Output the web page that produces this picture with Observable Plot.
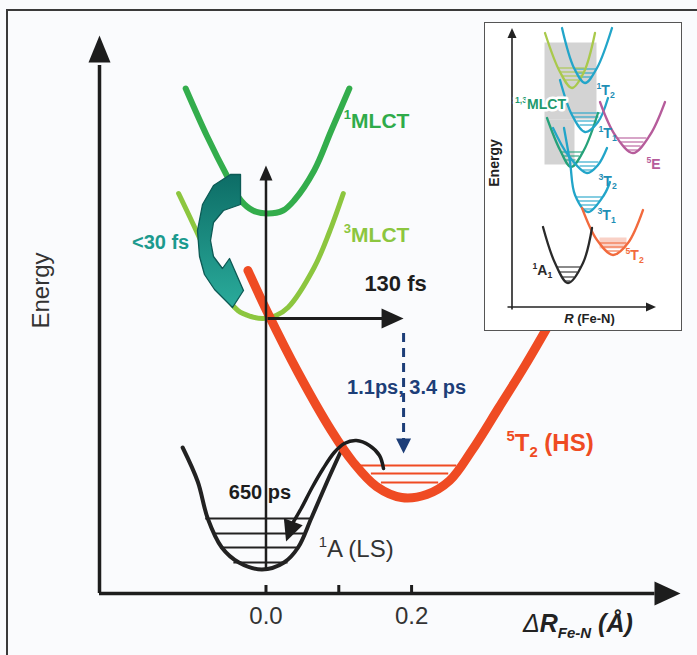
<!DOCTYPE html>
<html>
<head>
<meta charset="utf-8">
<script src="https://cdn.jsdelivr.net/npm/d3@7"></script>
<script src="https://cdn.jsdelivr.net/npm/@observablehq/plot@0.6"></script>
<style>
  html, body { margin: 0; padding: 0; background: #fafbfd; }
  #wrap { position: relative; width: 697px; height: 655px; overflow: hidden; background: #fafbfd; }
  #frame { position: absolute; left: 6px; top: 9px; width: 760px; height: 760px; border-left: 2px solid #3a3a3a; border-top: 2px solid #3a3a3a; }
  #main { position: absolute; left: 0; top: 0; }
  #inset { position: absolute; left: 484px; top: 22px; width: 198px; height: 309px; box-sizing: border-box; border: 1.5px solid #555; background: #fff; }
  #inset svg, #main svg { display: block; }
</style>
</head>
<body>
<div id="wrap"><div id="frame"></div><div id="main"></div><div id="inset"></div></div>
<script>
const FONT = '"Liberation Sans", Arial, Helvetica, sans-serif';

// ===== MAIN DIAGRAM DATA (x = ΔR Fe–N in Å, y = energy, arbitrary units) =====
const xTicks = [0, 0.1, 0.2];
const xTickLabels = [0, 0.2];
const xRange = [-0.2287, 0.5694];
const yRange = [0, 5.58];

// potential energy curves, [ΔR, E] points
const groundLS = [[-0.1145,1.46],[-0.0938,1.12],[-0.0800,0.75],[-0.0607,0.46],[-0.0372,0.31],[-0.0055,0.24],[0.0248,0.31],[0.0441,0.46],[0.0621,0.75],[0.0841,1.12],[0.1034,1.43]];
const mlct1 = [[-0.1103,5.05],[-0.0814,4.58],[-0.0524,4.16],[-0.0345,3.93],[-0.0179,3.83],[0.0028,3.80],[0.0234,3.83],[0.0386,3.93],[0.0662,4.23],[0.0897,4.63],[0.1145,5.05]];
const mlct3 = [[-0.12,4.00],[-0.0897,3.53],[-0.0621,3.06],[-0.0386,2.83],[-0.0207,2.77],[-0.0041,2.75],[0.0138,2.78],[0.0303,2.86],[0.0662,3.26],[0.0869,3.61],[0.1062,4.00]];
const quintetHS = [[-0.0248,3.23],[0.0028,2.80],[0.0441,2.21],[0.0897,1.63],[0.12,1.31],[0.1517,1.07],[0.1862,0.96],[0.2207,0.99],[0.2524,1.13],[0.2828,1.43],[0.32,1.86],[0.3559,2.28],[0.3903,2.71]];

// vibrational levels
const groundLevels = [{y:0.75,x1:-0.0828,x2:0.0621},{y:0.60,x1:-0.0717,x2:0.0524},{y:0.46,x1:-0.0621,x2:0.0441},{y:0.31,x1:-0.0441,x2:0.0303}];
const hsLevels = [{y:1.28,x1:0.1283,x2:0.2621},{y:1.20,x1:0.1448,x2:0.251},{y:1.11,x1:0.1586,x2:0.2372}];

// transitions
const excitation = {x:0, y1:0.24, y2:4.16, tip:4.28};
const mlctToHS = {y:2.75, x1:0.0028, x2:0.17, tip:0.189};
const hsCooling = {x:0.189, y1:2.60, y2:1.52, tip:1.40};
const backRelax = [[0.1614,1.25],[0.1559,1.38],[0.1421,1.48],[0.1241,1.53],[0.1076,1.50],[0.0938,1.41],[0.0786,1.25],[0.0634,1.06],[0.0483,0.85],[0.0372,0.71]];
const backRelaxTip = {x:0.0276, y:0.52};
const iscArrow = [[-0.0488,4.19],[-0.0721,4.08],[-0.0872,3.89],[-0.0941,3.63],[-0.0913,3.37],[-0.0845,3.19],[-0.0707,3.04],[-0.0460,2.86],[-0.0309,3.03],[-0.0501,3.35],[-0.0598,3.25],[-0.0721,3.37],[-0.0762,3.53],[-0.0721,3.71],[-0.0584,3.83],[-0.0350,3.89],[-0.0350,4.19],[-0.0488,4.19]];

// labels
const timeLabels = [
  {id:"isc", text:"<30 fs", x:-0.1448, y:3.51},
  {id:"ict", text:"130 fs", x:0.178, y:3.10},
  {id:"cool", text:"1.1ps, 3.4 ps", x:0.1931, y:2.06},
  {id:"back", text:"650 ps", x:-0.0083, y:1.01}
];
const stateLabels = [
  {id:"mlct1", x:0.1076, y:4.73, parts:[["1","sup"],["MLCT",""]]},
  {id:"mlct3", x:0.1076, y:3.59, parts:[["3","sup"],["MLCT",""]]},
  {id:"hs", x:0.331, y:1.51, parts:[["5","sup"],["T",""],["2","sub"],[" (HS)",""]]},
  {id:"ls", x:0.0731, y:0.45, parts:[["1","sup"],["A (LS)",""]]}
];
const yTitle = {text:"Energy", x:-0.3084, y:3.03};
const xTitle = {x:0.3537, y:-0.30, parts:["Δ","R","Fe-N"," (Å)"]};

// ===== INSET DATA (R in arbitrary units, energy in arbitrary units) =====
const insetX = [-2.65, 16.85];
const insetY = [-2.25, 28.35];
const inA1 = [[3.1,8.0],[4.3,4.4],[5.6,2.4],[7.1,4.4],[8.0,7.9]];
const inT2q = [[7.0,9.9],[8.5,6.7],[10.1,5.2],[11.6,6.4],[13.1,9.7]];
const inT1t = [[5.2,17.9],[5.8,14.5],[6.3,11.2],[7.6,9.5],[9.2,11.2],[9.8,12.5]];
const inT2t = [[4.1,17.9],[5.6,15.2],[7.5,13.4],[8.6,14.2],[9.5,15.9]];
const inT1s = [[4.8,22.7],[6.0,19.2],[7.3,17.5],[8.6,18.5],[9.6,20.9]];
const inT2s = [[5.0,27.9],[6.2,23.9],[7.3,22.4],[8.5,23.9],[10.0,27.9]];
const inMLCT1 = [[3.3,27.4],[4.8,23.5],[6.0,21.9],[7.2,23.5],[8.3,27.4]];
const inMLCT3 = [[3.5,18.9],[4.8,15.7],[5.9,14.0],[7.2,15.7],[8.6,19.4]];
const inE5 = [[8.8,20.5],[10.3,17.2],[12.1,15.4],[13.8,17.2],[15.3,20.5]];
const insetShading = [{x1:3.3,x2:8.5,y1:18.7,y2:26.4},{x1:3.3,x2:6.3,y1:14.2,y2:18.7}];
const insetHSShading = [{x1:8.8,x2:11.5,y1:5.8,y2:6.9}];
const insetLevels = [
  {s:"A1",y:4.0,x1:4.45,x2:6.85},{s:"A1",y:3.5,x1:4.7,x2:6.55},{s:"A1",y:3.0,x1:5.0,x2:6.25},{s:"A1",y:2.6,x1:5.3,x2:5.9},
  {s:"T2q",y:6.4,x1:8.85,x2:11.5},{s:"T2q",y:6.0,x1:9.2,x2:11.2},{s:"T2q",y:5.6,x1:9.5,x2:10.8},
  {s:"T",y:11.0,x1:6.4,x2:9.1},{s:"T",y:10.6,x1:6.6,x2:8.8},{s:"T",y:10.2,x1:6.8,x2:8.6},{s:"T",y:9.8,x1:7.1,x2:8.2},
  {s:"T",y:14.5,x1:6.4,x2:8.7},{s:"T",y:14.1,x1:6.8,x2:8.4},{s:"T",y:13.7,x1:7.1,x2:8.1},
  {s:"T",y:19.4,x1:6.0,x2:8.9},{s:"T",y:19.0,x1:6.2,x2:8.7},{s:"T",y:18.6,x1:6.5,x2:8.5},{s:"T",y:18.2,x1:6.8,x2:8.2},
  {s:"T",y:23.8,x1:6.25,x2:8.45},{s:"T",y:23.4,x1:6.5,x2:8.2},{s:"T",y:23.0,x1:6.75,x2:7.95},
  {s:"M1",y:23.9,x1:4.7,x2:7.3},{s:"M1",y:23.5,x1:4.8,x2:7.2},{s:"M1",y:23.1,x1:5.05,x2:6.95},{s:"M1",y:22.7,x1:5.3,x2:6.7},
  {s:"M3",y:15.5,x1:4.9,x2:7.05},{s:"M3",y:15.1,x1:5.15,x2:6.75},{s:"M3",y:14.7,x1:5.4,x2:6.4},
  {s:"E",y:16.9,x1:10.6,x2:13.5},{s:"E",y:16.5,x1:10.9,x2:13.2},{s:"E",y:16.1,x1:11.2,x2:12.9},{s:"E",y:15.7,x1:11.6,x2:12.6}
];
const insetLabels = [
  {s:"M", x:2.9, y:20.3, parts:[["1,3","sup"],["MLCT",""]]},
  {s:"T", x:8.5, y:21.7, parts:[["1","sup"],["T",""],["2","sub"]]},
  {s:"T", x:8.7, y:17.4, parts:[["1","sup"],["T",""],["1","sub"]]},
  {s:"T", x:8.7, y:12.6, parts:[["3","sup"],["T",""],["2","sub"]]},
  {s:"T", x:8.6, y:9.2, parts:[["3","sup"],["T",""],["1","sub"]]},
  {s:"T2q", x:11.4, y:5.2, parts:[["5","sup"],["T",""],["2","sub"]]},
  {s:"E", x:13.5, y:14.3, parts:[["5","sup"],["E",""]]},
  {s:"A1", x:2.1, y:3.7, parts:[["1","sup"],["A",""],["1","sub"]]}
];
const insetYTitle = {text:"Energy", x:-1.7, y:14.4};
const insetXTitle = {x:7.8, y:-1.1, parts:["R"," (Fe-N)"]};

// ===== helpers =====
const P = d => d[0], Q = d => d[1];
function head(x, y, rotate, length, r, fill) {
  return Plot.vector([{x, y}], {x:"x", y:"y", rotate, length, r, shape:"spike", anchor:"end", fill, stroke:"none"});
}
function richText(svg, X, Y, label, st) {
  const t = d3.select(svg).append("text")
    .attr("x", X(label.x)).attr("y", Y(label.y) + 0.36 * st.size)
    .attr("font-family", FONT).attr("font-size", st.size)
    .attr("font-weight", st.weight || "bold").attr("fill", st.color)
    .attr("text-anchor", st.anchor || "start");
  if (st.halo) t.attr("stroke", "#fff").attr("stroke-width", st.halo).attr("paint-order", "stroke").attr("stroke-linejoin", "round");
  let shift = 0;
  for (const [s, kind] of label.parts) {
    const target = kind === "sup" ? -0.4 * st.size : kind === "sub" ? 0.25 * st.size : 0;
    const ts = t.append("tspan").text(s);
    if (target - shift !== 0) ts.attr("dy", target - shift);
    shift = target;
    if (kind) ts.attr("font-size", st.size * 0.62);
  }
  return t;
}

// ===== MAIN PLOT =====
const timeStyle = {isc:{c:"#1b9a8e",s:20}, ict:{c:"#1d1d1d",s:22}, cool:{c:"#1d3e78",s:20}, back:{c:"#1d1d1d",s:20}};
const main = Plot.plot({
  width: 697, height: 655,
  marginLeft: 99, marginRight: 17, marginTop: 35, marginBottom: 62,
  x: {domain: xRange, axis: null},
  y: {domain: yRange, axis: null},
  style: {background: "transparent", fontFamily: FONT, overflow: "visible", color: "#1d1d1d"},
  marks: [
    Plot.ruleY(groundLevels, {y:"y", x1:"x1", x2:"x2", stroke:"#222", strokeWidth:1.8}),
    Plot.ruleY(hsLevels, {y:"y", x1:"x1", x2:"x2", stroke:"#ef4b23", strokeWidth:2}),
    Plot.line(groundLS, {x:P, y:Q, curve:"catmull-rom", stroke:"#222", strokeWidth:4}),
    Plot.line(mlct3, {x:P, y:Q, curve:"catmull-rom", stroke:"#8cc63f", strokeWidth:5}),
    Plot.line(mlct1, {x:P, y:Q, curve:"catmull-rom", stroke:"#33ad4c", strokeWidth:6}),
    Plot.line(quintetHS, {x:P, y:Q, curve:"catmull-rom", stroke:"#ef4b23", strokeWidth:9}),
    // axes
    Plot.ruleX([xRange[0]], {y1:0, y2:yRange[1] - 0.3, stroke:"#1d1d1d", strokeWidth:3.5}),
    head(xRange[0], yRange[1], 0, 27, 11, "#1d1d1d"),
    Plot.ruleY([0], {x1:xRange[0], x2:xRange[1] - 0.035, stroke:"#1d1d1d", strokeWidth:3.5}),
    head(xRange[1], 0, 90, 26, 12, "#1d1d1d"),
    Plot.ruleX(xTicks, {x:d => d, y1:0, y2:0.08, stroke:"#1d1d1d", strokeWidth:3}),
    Plot.text(xTickLabels, {x:d => d, y:-0.23, text:d => d3.format(".1f")(d), fontSize:24, fill:"#333"}),
    Plot.text([yTitle], {x:"x", y:"y", text:"text", rotate:-90, fontSize:24, fill:"#333"}),
    // intersystem crossing arrow
    Plot.line(iscArrow, {x:P, y:Q, curve:"linear", fill:"url(#tealGrad)", stroke:"#0c5a55", strokeWidth:1.3, strokeLinejoin:"round"}),
    // excitation
    Plot.ruleX([excitation.x], {y1:excitation.y1, y2:excitation.y2, stroke:"#1d1d1d", strokeWidth:2.5}),
    head(excitation.x, excitation.tip, 0, 15, 6.5, "#1d1d1d"),
    // MLCT -> HS
    Plot.ruleY([mlctToHS.y], {x1:mlctToHS.x1, x2:mlctToHS.x2, stroke:"#1d1d1d", strokeWidth:3}),
    head(mlctToHS.tip, mlctToHS.y, 90, 22, 10, "#1d1d1d"),
    // HS vibrational cooling
    Plot.ruleX([hsCooling.x], {y1:hsCooling.y1, y2:hsCooling.y2, stroke:"#1d3e78", strokeWidth:3, strokeDasharray:"9,6"}),
    head(hsCooling.x, hsCooling.tip, 180, 15, 7.5, "#1d3e78"),
    // HS -> LS relaxation
    Plot.line(backRelax, {x:P, y:Q, curve:"catmull-rom", stroke:"#1d1d1d", strokeWidth:3.5}),
    head(backRelaxTip.x, backRelaxTip.y, 200, 21, 10, "#1d1d1d"),
    ...timeLabels.map(d => Plot.text([d], {x:"x", y:"y", text:"text", fontSize:timeStyle[d.id].s, fontWeight:"bold", fill:timeStyle[d.id].c}))
  ]
});
document.getElementById("main").append(main);

// gradient for the teal arrow
const defs = d3.select(main).insert("defs", ":first-child");
const grad = defs.append("linearGradient").attr("id", "tealGrad").attr("x1", 0).attr("y1", 0).attr("x2", 0).attr("y2", 1);
grad.append("stop").attr("offset", "0%").attr("stop-color", "#0d6d66");
grad.append("stop").attr("offset", "100%").attr("stop-color", "#2aab9b");

const MX = v => main.scale("x").apply(v), MY = v => main.scale("y").apply(v);
const stateStyle = {
  mlct1: {size:21, color:"#2fab4a"},
  mlct3: {size:21, color:"#8cc63f"},
  hs: {size:24, color:"#ef4b23"},
  ls: {size:24, color:"#333", weight:"normal"}
};
for (const l of stateLabels) richText(main, MX, MY, l, stateStyle[l.id]);

// x-axis title ΔR_Fe-N (Å)
{
  const t = d3.select(main).append("text")
    .attr("x", MX(xTitle.x)).attr("y", MY(xTitle.y) + 9)
    .attr("text-anchor", "start")
    .attr("font-family", FONT).attr("font-size", 25).attr("font-style", "italic").attr("fill", "#222");
  t.append("tspan").text(xTitle.parts[0]);
  t.append("tspan").text(xTitle.parts[1]).attr("font-weight", "bold");
  t.append("tspan").text(xTitle.parts[2]).attr("font-weight", "bold").attr("font-size", 15).attr("dy", 6);
  t.append("tspan").text(xTitle.parts[3]).attr("font-weight", "bold").attr("dy", -6);
}

// ===== INSET PLOT =====
const C = {A1:"#2a2a2a", T2q:"#f26a3d", T:"#22a5c9", M1:"#a9c94b", M3:"#26a27a", E:"#b65c9b", M:"#1f9a6e"};
const curveMark = (data, color) => Plot.line(data, {x:P, y:Q, curve:"catmull-rom", stroke:color, strokeWidth:2.3});
const inset = Plot.plot({
  width: 195, height: 306, margin: 0,
  x: {domain: insetX, axis: null},
  y: {domain: insetY, axis: null},
  style: {background: "transparent", fontFamily: FONT, overflow: "visible"},
  marks: [
    Plot.rect(insetShading, {x1:"x1", x2:"x2", y1:"y1", y2:"y2", fill:"#c4c4c4", fillOpacity:0.75}),
    Plot.rect(insetHSShading, {x1:"x1", x2:"x2", y1:"y1", y2:"y2", fill:"#f5b3a0", fillOpacity:0.6}),
    ...Object.keys(C).map(s => Plot.ruleY(insetLevels.filter(d => d.s === s), {y:"y", x1:"x1", x2:"x2", stroke:C[s], strokeWidth:1.1})),
    curveMark(inMLCT1, C.M1),
    curveMark(inMLCT3, C.M3),
    curveMark(inT2s, C.T),
    curveMark(inT1s, C.T),
    curveMark(inT2t, C.T),
    curveMark(inT1t, C.T),
    curveMark(inE5, C.E),
    curveMark(inT2q, C.T2q),
    curveMark(inA1, C.A1),
    Plot.ruleX([0], {y1:-0.3, y2:27.0, stroke:"#222", strokeWidth:1.6}),
    head(0, 27.9, 0, 10, 4.5, "#222"),
    Plot.ruleY([0], {x1:-0.4, x2:13.6, stroke:"#222", strokeWidth:1.6}),
    head(14.4, 0, 90, 10, 4.5, "#222"),
    Plot.text([insetYTitle], {x:"x", y:"y", text:"text", rotate:-90, fontSize:14, fontWeight:"bold", fill:"#222"})
  ]
});
document.getElementById("inset").append(inset);
const IX = v => inset.scale("x").apply(v), IY = v => inset.scale("y").apply(v);
for (const l of insetLabels) {
  const st = l.s === "M" ? {size:14, color:C.M, anchor:"middle", halo:5}
           : {size:14, color: l.s === "T" ? "#1f8fb5" : C[l.s]};
  richText(inset, IX, IY, l, st);
}
{
  const t = d3.select(inset).append("text")
    .attr("x", IX(insetXTitle.x)).attr("y", IY(insetXTitle.y) + 5)
    .attr("font-family", FONT).attr("font-size", 13).attr("font-weight", "bold")
    .attr("text-anchor", "middle").attr("fill", "#222");
  t.append("tspan").text(insetXTitle.parts[0]).attr("font-style", "italic");
  t.append("tspan").text(insetXTitle.parts[1]);
}
</script>
</body>
</html>
